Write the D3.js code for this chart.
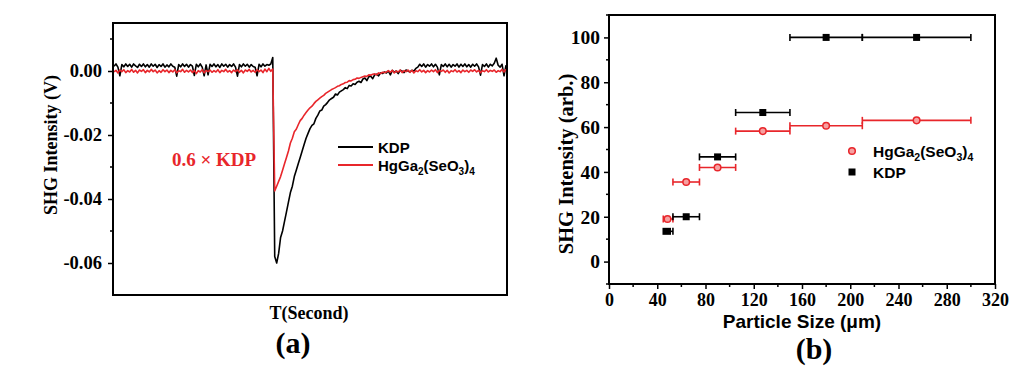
<!DOCTYPE html>
<html>
<head>
<meta charset="utf-8">
<script src="https://cdn.jsdelivr.net/npm/d3@7/dist/d3.min.js"></script>
<style>
  body { margin: 0; background: #fff; }
  svg { display: block; }
  .serif { font-family: "Liberation Serif", "Times New Roman", serif; font-weight: bold; }
  .sans { font-family: "Liberation Sans", Arial, sans-serif; font-weight: bold; }
</style>
</head>
<body>
<div id="chart"></div>
<script>
// ---- panel (a) data: SHG signal traces (V), one sample per time step ----
var kdpTrace = [
  0.0015, 0.0022, 0.0012, -0.0015, 0.0020, 0.0013, 0.0022, 0.0014, 0.0021, 0.0012,
  0.0022, 0.0016, 0.0011, 0.0021, 0.0014, 0.0022, 0.0013, 0.0020, 0.0012, 0.0022,
  0.0015, 0.0021, 0.0011, 0.0020, 0.0014, 0.0022, 0.0012, 0.0019, 0.0013, 0.0022,
  0.0015, 0.0012, -0.0016, 0.0020, 0.0013, 0.0022, 0.0014, 0.0021, 0.0012, 0.0020,
  0.0015, -0.0014, 0.0021, 0.0013, 0.0022, 0.0012, -0.0015, 0.0019, -0.0012, 0.0021,
  0.0014, 0.0022, 0.0013, 0.0020, 0.0011, 0.0022, 0.0015, 0.0021, 0.0012, 0.0020,
  0.0014, 0.0022, 0.0012, -0.0016, 0.0020, 0.0013, 0.0022, 0.0015, 0.0021, 0.0012,
  0.0020, 0.0014, 0.0012, -0.0015, 0.0021, 0.0013, 0.0022, 0.0015, 0.0020, 0.0018,
  0.0022, 0.0042, -0.0580, -0.0600, -0.0570, -0.0520, -0.0500, -0.0470, -0.0440, -0.0410,
  -0.0380, -0.0360, -0.0330, -0.0310, -0.0290, -0.0270, -0.0250, -0.0230, -0.0210, -0.0195,
  -0.0180, -0.0170, -0.0165, -0.0148, -0.0138, -0.0125, -0.0122, -0.0110, -0.0105, -0.0098,
  -0.0090, -0.0086, -0.0082, -0.0072, -0.0075, -0.0066, -0.0062, -0.0058, -0.0052, -0.0055,
  -0.0045, -0.0047, -0.0040, -0.0042, -0.0035, -0.0032, -0.0036, -0.0025, -0.0022, -0.0030,
  -0.0018, -0.0016, -0.0024, -0.0012, -0.0010, -0.0015, -0.0006, -0.0008, -0.0003, -0.0006,
  0.0000, -0.0012, 0.0002, -0.0004, 0.0000, -0.0008, 0.0002, 0.0000, -0.0005, 0.0003,
  0.0000, -0.0003, 0.0002, 0.0000, 0.0008, 0.0012, 0.0021, 0.0014, 0.0022, 0.0012,
  0.0020, 0.0015, 0.0022, 0.0013, 0.0021, 0.0012, -0.0012, 0.0020, 0.0014, 0.0022,
  0.0013, 0.0021, 0.0012, 0.0020, 0.0015, 0.0022, 0.0012, 0.0021, 0.0014, 0.0022,
  0.0013, 0.0020, 0.0012, 0.0021, 0.0015, 0.0022, 0.0013, -0.0013, 0.0020, 0.0014,
  0.0022, 0.0012, 0.0021, 0.0016, 0.0024, 0.0040, 0.0018, 0.0012, 0.0021, -0.0015,
  0.0018
];
var hgTrace = [
  -0.0003, 0.0002, -0.0006, 0.0003, -0.0002, 0.0004, -0.0005, 0.0001, -0.0003, 0.0005,
  -0.0004, 0.0002, -0.0006, 0.0003, -0.0001, 0.0004, -0.0005, 0.0002, -0.0003, 0.0005,
  -0.0002, 0.0003, -0.0006, 0.0001, -0.0004, 0.0004, -0.0002, 0.0003, -0.0005, 0.0002,
  -0.0003, 0.0004, -0.0006, 0.0001, -0.0002, 0.0005, -0.0004, 0.0002, -0.0003, 0.0003,
  -0.0005, 0.0002, -0.0008, 0.0001, -0.0003, 0.0004, -0.0006, 0.0002, -0.0002, 0.0003,
  -0.0004, 0.0001, -0.0003, 0.0004, -0.0005, 0.0002, -0.0002, 0.0005, -0.0003, 0.0001,
  -0.0005, 0.0003, -0.0002, 0.0004, -0.0004, 0.0002, -0.0006, 0.0003, -0.0001, 0.0005,
  -0.0003, 0.0002, -0.0004, 0.0004, -0.0002, 0.0003, -0.0005, 0.0006, -0.0002, 0.0008,
  -0.0001, 0.0006, -0.0375, -0.0360, -0.0345, -0.0330, -0.0310, -0.0290, -0.0270, -0.0250,
  -0.0225, -0.0210, -0.0190, -0.0182, -0.0168, -0.0155, -0.0148, -0.0138, -0.0130, -0.0122,
  -0.0115, -0.0110, -0.0102, -0.0095, -0.0090, -0.0085, -0.0080, -0.0076, -0.0070, -0.0066,
  -0.0062, -0.0058, -0.0055, -0.0052, -0.0048, -0.0046, -0.0042, -0.0040, -0.0036, -0.0035,
  -0.0030, -0.0031, -0.0027, -0.0026, -0.0022, -0.0023, -0.0020, -0.0018, -0.0016, -0.0017,
  -0.0012, -0.0013, -0.0010, -0.0009, -0.0012, -0.0006, -0.0008, -0.0004, -0.0005, -0.0003,
  0.0001, -0.0004, 0.0002, -0.0006, 0.0000, -0.0003, 0.0003, -0.0005, 0.0001, -0.0002,
  0.0003, -0.0004, 0.0002, -0.0006, 0.0001, -0.0002, 0.0004, -0.0003, 0.0002, -0.0005,
  0.0001, -0.0003, 0.0003, -0.0002, 0.0004, -0.0005, 0.0002, -0.0001, 0.0003, -0.0004,
  0.0002, -0.0006, 0.0001, -0.0002, 0.0004, -0.0003, 0.0001, -0.0005, 0.0003, -0.0002,
  0.0002, -0.0004, 0.0003, -0.0001, 0.0004, -0.0003, 0.0002, -0.0005, 0.0001, -0.0002,
  0.0004, -0.0003, 0.0002, -0.0001, 0.0003, -0.0004, 0.0001, -0.0002, 0.0005, -0.0003,
  0.0006
];
var traceTicks = [0, -0.02, -0.04, -0.06];
var traceMinorTicks = [0.01, -0.01, -0.03, -0.05];

// ---- panel (b) data: SHG intensity vs particle size ----
var sizeCentre = [48.5, 64, 90, 127.5, 180, 255];
var sizeLow = [45, 53, 75, 105, 150, 210];
var sizeHigh = [53, 75, 105, 150, 210, 300];
var kdpIntensity = [13.5, 20, 46.7, 66.5, 100, 100];
var hgIntensity = [19, 35.5, 42, 58.2, 60.6, 63];
var sizeTicks = [0, 40, 80, 120, 160, 200, 240, 280, 320];
var sizeMinorTicks = [20, 60, 100, 140, 180, 220, 260, 300];
var intensityTicks = [0, 20, 40, 60, 80, 100];
var intensityMinorTicks = [-10, 10, 30, 50, 70, 90, 110];

var red = '#e8262b';
var width = 1021;
var height = 375;

var svg = d3.select('#chart')
    .append('svg')
    .attr('width', width)
    .attr('height', height);

svg.append('rect')
    .attr('width', width)
    .attr('height', height)
    .attr('fill', '#fff');

// ================= Panel (a) =================
var aL = 113, aR = 507, aT = 23, aB = 295;

var scaleT = d3.scaleLinear()
    .domain([0, kdpTrace.length - 1])
    .range([aL + 1, aR - 1]);

var scaleV = d3.scaleLinear()
    .domain([-0.07, 0.015])
    .range([aB, aT]);

var axisV = d3.axisLeft(scaleV)
    .tickValues(traceTicks)
    .tickSize(5)
    .tickFormat(function(d) { return d === 0 ? '0.00' : d3.format('.2f')(d).replace('−', '-'); });

var gA = svg.append('g')
    .attr('transform', 'translate(' + aL + ',0)')
    .call(axisV);
gA.select('.domain').remove();
gA.selectAll('.tick line').attr('stroke-width', 1.5);
gA.selectAll('.tick text')
    .attr('class', 'serif')
    .attr('font-size', 18.5)
    .attr('dx', -3);

svg.append('g')
    .selectAll('line')
    .data(traceMinorTicks)
    .enter()
    .append('line')
    .attr('x1', aL - 3)
    .attr('x2', aL)
    .attr('y1', function(d) { return scaleV(d); })
    .attr('y2', function(d) { return scaleV(d); })
    .attr('stroke', '#000')
    .attr('stroke-width', 1.5);

var line = d3.line()
    .x(function(d, i) { return scaleT(i); })
    .y(function(d) { return scaleV(d); });

svg.append('path')
    .datum(kdpTrace)
    .attr('d', line)
    .attr('fill', 'none')
    .attr('stroke', '#000')
    .attr('stroke-width', 1.6)
    .attr('stroke-linejoin', 'round');

svg.append('path')
    .datum(hgTrace)
    .attr('d', line)
    .attr('fill', 'none')
    .attr('stroke', red)
    .attr('stroke-width', 1.6)
    .attr('stroke-linejoin', 'round');

svg.append('rect')
    .attr('x', aL)
    .attr('y', aT)
    .attr('width', aR - aL)
    .attr('height', aB - aT)
    .attr('fill', 'none')
    .attr('stroke', '#000')
    .attr('stroke-width', 2);

// annotation
svg.append('text')
    .attr('class', 'serif')
    .attr('x', 172)
    .attr('y', 165.5)
    .attr('font-size', 19)
    .attr('fill', red)
    .text('0.6 × KDP');

// legend (a)
var legA = svg.append('g').attr('class', 'sans').attr('font-size', 15);
legA.append('line').attr('x1', 338).attr('x2', 373).attr('y1', 147).attr('y2', 147)
    .attr('stroke', '#000').attr('stroke-width', 2);
legA.append('text').attr('x', 378).attr('y', 152.5).text('KDP');
legA.append('line').attr('x1', 338).attr('x2', 373).attr('y1', 165).attr('y2', 165)
    .attr('stroke', red).attr('stroke-width', 2);
var tA = legA.append('text').attr('x', 378).attr('y', 170.5);
tA.append('tspan').text('HgGa');
tA.append('tspan').attr('font-size', 10).attr('dy', 4).text('2');
tA.append('tspan').attr('dy', -4).text('(SeO');
tA.append('tspan').attr('font-size', 10).attr('dy', 4).text('3');
tA.append('tspan').attr('dy', -4).text(')');
tA.append('tspan').attr('font-size', 10).attr('dy', 4).text('4');

// axis titles (a)
svg.append('text')
    .attr('class', 'serif')
    .attr('font-size', 18)
    .attr('text-anchor', 'middle')
    .attr('transform', 'translate(57,145) rotate(-90)')
    .text('SHG Intensity (V)');

svg.append('text')
    .attr('class', 'serif')
    .attr('font-size', 18)
    .attr('text-anchor', 'middle')
    .attr('x', 309)
    .attr('y', 319)
    .text('T(Second)');

svg.append('text')
    .attr('class', 'serif')
    .attr('font-size', 30)
    .attr('text-anchor', 'middle')
    .attr('x', 293)
    .attr('y', 353)
    .text('(a)');

// ================= Panel (b) =================
var bL = 609, bR = 995, bT = 15, bB = 284;

var scaleX = d3.scaleLinear()
    .domain([0, 320])
    .range([bL, bR]);

var scaleY = d3.scaleLinear()
    .domain([-10, 110])
    .range([bB, bT]);

var axisX = d3.axisBottom(scaleX)
    .tickValues(sizeTicks)
    .tickSize(5);

var gX = svg.append('g')
    .attr('transform', 'translate(0,' + bB + ')')
    .call(axisX);
gX.select('.domain').remove();
gX.selectAll('.tick line').attr('stroke-width', 1.5);
gX.selectAll('.tick text')
    .attr('class', 'serif')
    .attr('font-size', 18)
    .attr('dy', 13.5);

var axisY = d3.axisLeft(scaleY)
    .tickValues(intensityTicks)
    .tickSize(5);

var gY = svg.append('g')
    .attr('transform', 'translate(' + bL + ',0)')
    .call(axisY);
gY.select('.domain').remove();
gY.selectAll('.tick line').attr('stroke-width', 1.5);
gY.selectAll('.tick text')
    .attr('class', 'serif')
    .attr('font-size', 19.5)
    .attr('dx', -1);

svg.append('g')
    .selectAll('line')
    .data(sizeMinorTicks)
    .enter()
    .append('line')
    .attr('x1', function(d) { return scaleX(d); })
    .attr('x2', function(d) { return scaleX(d); })
    .attr('y1', bB)
    .attr('y2', bB + 3)
    .attr('stroke', '#000')
    .attr('stroke-width', 1.5);

svg.append('g')
    .selectAll('line')
    .data(intensityMinorTicks)
    .enter()
    .append('line')
    .attr('x1', bL - 3)
    .attr('x2', bL)
    .attr('y1', function(d) { return scaleY(d); })
    .attr('y2', function(d) { return scaleY(d); })
    .attr('stroke', '#000')
    .attr('stroke-width', 1.5);

// error bars + markers
function drawSeries(values, colour, isCircle) {
  var g = svg.append('g');
  var idx = d3.range(values.length);
  g.selectAll('line.bar')
      .data(idx)
      .enter()
      .append('line')
      .attr('x1', function(i) { return scaleX(sizeLow[i]); })
      .attr('x2', function(i) { return scaleX(sizeHigh[i]); })
      .attr('y1', function(i) { return scaleY(values[i]); })
      .attr('y2', function(i) { return scaleY(values[i]); })
      .attr('stroke', colour)
      .attr('stroke-width', 1.6);
  [sizeLow, sizeHigh].forEach(function(ends) {
    g.selectAll(null)
        .data(idx)
        .enter()
        .append('line')
        .attr('x1', function(i) { return scaleX(ends[i]); })
        .attr('x2', function(i) { return scaleX(ends[i]); })
        .attr('y1', function(i) { return scaleY(values[i]) - 3.5; })
        .attr('y2', function(i) { return scaleY(values[i]) + 3.5; })
        .attr('stroke', colour)
        .attr('stroke-width', 1.6);
  });
  if (isCircle) {
    g.selectAll('circle')
        .data(idx)
        .enter()
        .append('circle')
        .attr('cx', function(i) { return scaleX(sizeCentre[i]); })
        .attr('cy', function(i) { return scaleY(values[i]); })
        .attr('r', 3.3)
        .attr('fill', '#f6a0a0')
        .attr('stroke', colour)
        .attr('stroke-width', 1.5);
  } else {
    g.selectAll('rect')
        .data(idx)
        .enter()
        .append('rect')
        .attr('x', function(i) { return scaleX(sizeCentre[i]) - 3.5; })
        .attr('y', function(i) { return scaleY(values[i]) - 3.5; })
        .attr('width', 7)
        .attr('height', 7)
        .attr('fill', colour);
  }
}

drawSeries(hgIntensity, red, true);
drawSeries(kdpIntensity, '#000', false);

svg.append('rect')
    .attr('x', bL)
    .attr('y', bT)
    .attr('width', bR - bL)
    .attr('height', bB - bT)
    .attr('fill', 'none')
    .attr('stroke', '#000')
    .attr('stroke-width', 2);

// legend (b)
var legB = svg.append('g').attr('class', 'sans').attr('font-size', 15.5);
legB.append('circle').attr('cx', 852).attr('cy', 151).attr('r', 3.3)
    .attr('fill', '#f6a0a0').attr('stroke', red).attr('stroke-width', 1.5);
var tB = legB.append('text').attr('x', 873).attr('y', 156.5);
tB.append('tspan').text('HgGa');
tB.append('tspan').attr('font-size', 10.5).attr('dy', 4).text('2');
tB.append('tspan').attr('dy', -4).text('(SeO');
tB.append('tspan').attr('font-size', 10.5).attr('dy', 4).text('3');
tB.append('tspan').attr('dy', -4).text(')');
tB.append('tspan').attr('font-size', 10.5).attr('dy', 4).text('4');
legB.append('rect').attr('x', 848.5).attr('y', 168.5).attr('width', 7).attr('height', 7).attr('fill', '#000');
legB.append('text').attr('x', 873).attr('y', 177.5).text('KDP');

// axis titles (b)
svg.append('text')
    .attr('class', 'serif')
    .attr('font-size', 20.5)
    .attr('text-anchor', 'middle')
    .attr('transform', 'translate(573,164) rotate(-90)')
    .text('SHG Intensity (arb.)');

svg.append('text')
    .attr('class', 'sans')
    .attr('font-size', 19)
    .attr('text-anchor', 'middle')
    .attr('x', 802)
    .attr('y', 328)
    .text('Particle Size (μm)');

svg.append('text')
    .attr('class', 'serif')
    .attr('font-size', 30)
    .attr('text-anchor', 'middle')
    .attr('x', 814)
    .attr('y', 359)
    .text('(b)');
</script>
</body>
</html>
